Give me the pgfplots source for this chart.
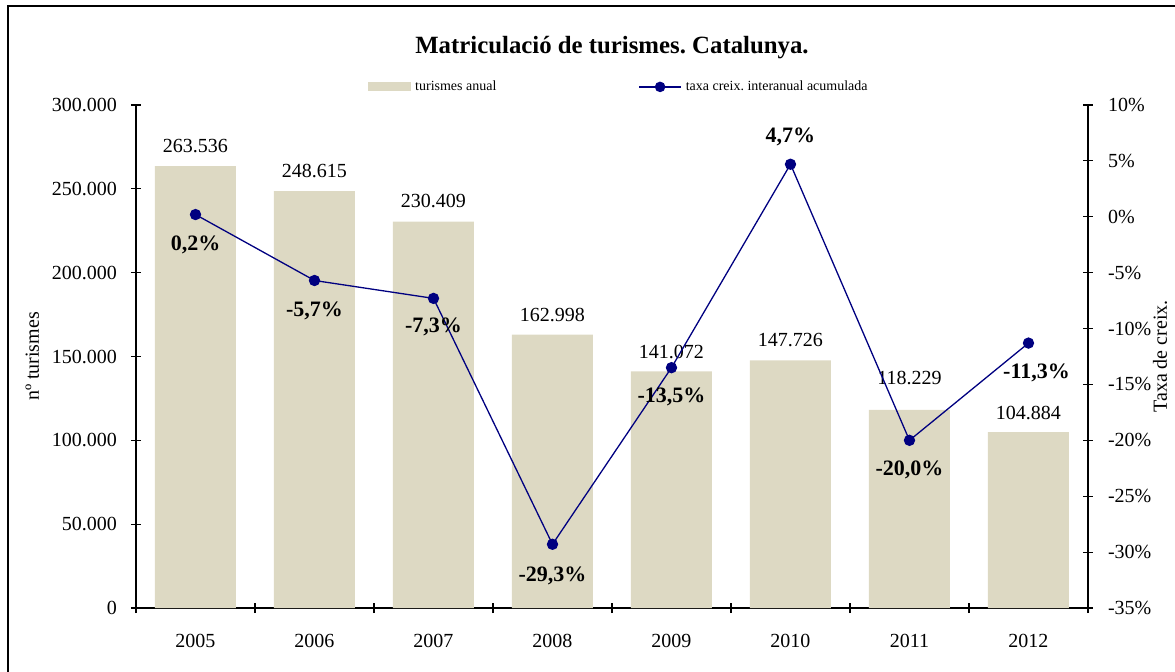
\documentclass[border=0pt]{standalone}
\usepackage{fontspec}
\setmainfont{Liberation Serif}
\usepackage{pgfplots}
\usepackage{pgfplotstable}
\pgfplotsset{compat=1.18}
\pgfplotsset{/pgf/number format/assume math mode=true}
\definecolor{barfill}{RGB}{221,217,195}
\definecolor{navyline}{RGB}{0,0,128}
\frenchspacing

% x, turismes, label offset (pt), taxa %, label offsets (pt)
\pgfplotstableread{
x n bdy t tdy tdx
0 263536 10 0.2 -15 0
1 248615 10 -5.7 -15 0
2 230409 10.5 -7.3 -14.5 0
3 162998 10 -29.3 -16 0
4 141072 9.5 -13.5 -14.5 0
5 147726 10 4.7 13.5 0
6 118229 16 -20.0 -15 0
7 104884 9.5 -11.3 -15 4
}\datatable

\begin{document}
\begin{tikzpicture}
\useasboundingbox (0,0) rectangle (587.5pt,335.5pt);
\draw[line width=1pt] (4pt,-5pt) -- (4pt,332.5pt) -- (600pt,332.5pt);

\begin{axis}[
  at={(68pt,31.5pt)}, anchor=south west,
  scale only axis, width=476pt, height=251.5pt,
  xmin=-0.5, xmax=7.5, ymin=0, ymax=300000,
  axis x line=bottom, axis y line=left,
  axis line style={-, line width=0.6pt},
  every outer x axis line/.append style={-},
  every outer y axis line/.append style={-},
  tick style={black, line width=0.6pt},
  tick align=center, major tick length=5pt, minor tick length=5pt,
  xtick={0,...,7}, xticklabels={2005,2006,2007,2008,2009,2010,2011,2012},
  major x tick style={draw=none},
  minor xtick={-0.5,0.5,...,7.5},
  ytick={0,50000,...,300000},
  scaled y ticks=false,
  y tick label style={/pgf/number format/fixed, /pgf/number format/1000 sep={.}},
  ticklabel style={font=\fontsize{10}{12}\selectfont},
  xticklabel style={yshift=-7pt},
  yticklabel style={xshift=-3.5pt},
  ylabel={nº turismes},
  ylabel style={at={(axis description cs:-0.109,0.5)}, anchor=center, font=\fontsize{10}{12}\selectfont},
  title={Matriculació de turismes. Catalunya.},
  title style={at={(axis description cs:0.5,1.091)}, anchor=center, font=\bfseries\fontsize{12.4}{14}\selectfont},
  clip=false,
]
\addplot[ybar, bar width=40.5pt, fill=barfill, draw=none,
  point meta=y,
  visualization depends on={\thisrow{bdy} \as \bdy},
  nodes near coords={\pgfmathprintnumber[fixed,1000 sep={.}]{\pgfplotspointmeta}},
  nodes near coords style={anchor=center, yshift=\bdy pt, font=\fontsize{10}{12}\selectfont, black},
] table[x=x, y=n] {\datatable};
\end{axis}

\begin{axis}[
  at={(68pt,31.5pt)}, anchor=south west,
  scale only axis, width=476pt, height=251.5pt,
  xmin=-0.5, xmax=7.5, ymin=-35, ymax=10,
  axis x line=none, axis y line=right,
  axis line style={-, line width=0.6pt},
  every outer y axis line/.append style={-},
  tick style={black, line width=0.6pt},
  tick align=center, major tick length=5pt,
  ytick={-35,-30,...,10},
  yticklabel={\pgfmathprintnumber{\tick}\%},
  yticklabel style={font=\fontsize{10}{12}\selectfont, xshift=4pt},
  ylabel={Taxa de creix.},
  ylabel style={at={(axis description cs:1.0756,0.5)}, anchor=center, font=\fontsize{10}{12}\selectfont},
  legend columns=2,
  legend style={draw=none, fill=none, at={(axis description cs:0.2437,1.036)}, anchor=west,
    font=\fontsize{7}{8}\selectfont, inner sep=0pt,
    /tikz/every even column/.append style={column sep=69pt}},
  clip=false,
]
\addlegendimage{legend image code/.code={\fill[barfill] (0pt,-2pt) rectangle (21pt,2pt);}}
\addlegendentry{turismes anual}
\addplot[navyline, line width=0.65pt, mark=*, mark size=2.5pt, mark options={fill=navyline},
  point meta=y,
  visualization depends on={\thisrow{tdy} \as \tdy},
  visualization depends on={\thisrow{tdx} \as \tdx},
  nodes near coords={\pgfmathprintnumber[fixed, fixed zerofill, precision=1, use comma]{\pgfplotspointmeta}\%},
  nodes near coords style={anchor=center, yshift=\tdy pt, xshift=\tdx pt, font=\bfseries\fontsize{11}{13}\selectfont, black},
  legend image code/.code={\draw[navyline, line width=0.65pt] (0pt,0pt) -- (21pt,0pt);
    \fill[navyline] (10.5pt,0pt) circle (2.3pt);},
] table[x=x, y=t] {\datatable};
\addlegendentry{taxa creix. interanual acumulada}
\end{axis}
\end{tikzpicture}
\end{document}
